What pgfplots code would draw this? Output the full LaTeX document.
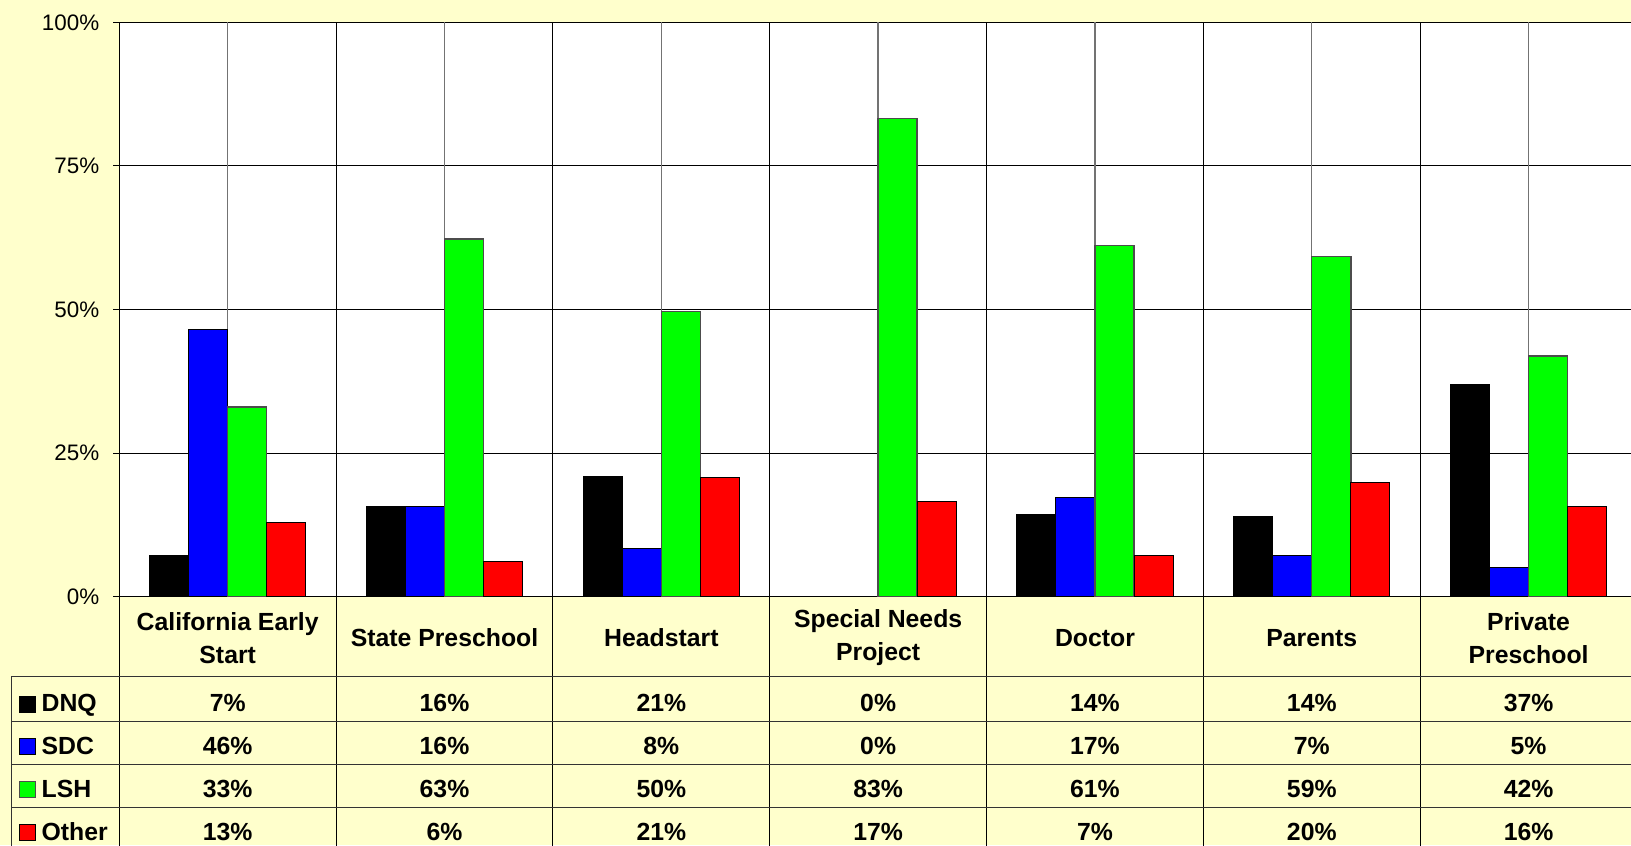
\documentclass[border=0pt]{standalone}
\usepackage{pgfplots}
\pgfplotsset{compat=1.18}
\usepackage{pgfplotstable}
\usepackage{fontspec}
\setmainfont{Liberation Sans}
\definecolor{bgyellow}{HTML}{FFFFCC}
\definecolor{sdcblue}{HTML}{0000FF}
\definecolor{lshgreen}{HTML}{00FF00}
\definecolor{othred}{HTML}{FF0000}

\pgfplotstableread{
x dnq sdc lsh oth
0 7.2 46.5 33.0 13.0
1 15.7 15.7 62.3 6.1
2 20.9 8.4 49.7 20.8
3 0 0 83.2 16.5
4 14.3 17.2 61.1 7.1
5 14.0 7.1 59.2 19.8
6 36.9 5.1 41.9 15.7
}\datatable

\newcommand\tabrow[8]{%
  \node[anchor=base,font=\tabfont] at (axis cs:0,#1) {#2\%};
  \node[anchor=base,font=\tabfont] at (axis cs:1,#1) {#3\%};
  \node[anchor=base,font=\tabfont] at (axis cs:2,#1) {#4\%};
  \node[anchor=base,font=\tabfont] at (axis cs:3,#1) {#5\%};
  \node[anchor=base,font=\tabfont] at (axis cs:4,#1) {#6\%};
  \node[anchor=base,font=\tabfont] at (axis cs:5,#1) {#7\%};
  \node[anchor=base,font=\tabfont] at (axis cs:6,#1) {#8\%};
}
\newcommand\tabfont{\bfseries\fontsize{12.4}{16.5}\selectfont}

\begin{document}
\begin{tikzpicture}
\useasboundingbox (0,0) rectangle (815.5pt,422.5pt);
\fill[bgyellow] (0,0) rectangle (815.5pt,422.5pt);
\clip (0,0) rectangle (815.5pt,422.5pt);
\begin{axis}[
  at={(59.65pt,124.15pt)}, anchor=south west,
  scale only axis, width=758.85pt, height=287.2pt,
  xmin=-0.5, xmax=6.5, ymin=0, ymax=100,
  clip=false,
  axis background/.style={fill=white},
  axis line style={black, line width=0.6pt},
  xtick=\empty,
  ytick={0,25,50,75,100},
  ytick pos=left,
  yticklabel={\pgfmathprintnumber[assume math mode=true]{\tick}\%},
  yticklabel style={font=\fontsize{11.2}{13}\selectfont, xshift=-3.5pt},
  tick align=outside, major tick length=3pt,
  tick style={black, line width=0.5pt},
  ymajorgrids, major grid style={black, line width=0.5pt},
]
% centre grid lines (behind bars)
\pgfplotsinvokeforeach{0,1,...,6}{\draw[black!55, line width=0.7pt] (axis cs:#1,0) -- (axis cs:#1,100);}

\addplot[ybar, bar width=0.18, bar shift=-0.27, fill=black, draw=black, line width=0.5pt] table[x=x,y=dnq]{\datatable};
\addplot[ybar, bar width=0.18, bar shift=-0.09, fill=sdcblue, draw=black, line width=0.5pt] table[x=x,y=sdc]{\datatable};
\addplot[ybar, bar width=0.18, bar shift=0.09, fill=lshgreen, draw=black!70, line width=0.7pt] table[x=x,y=lsh]{\datatable};
\addplot[ybar, bar width=0.18, bar shift=0.27, fill=othred, draw=black, line width=0.5pt] table[x=x,y=oth]{\datatable};

% category boundaries through plot and table
\pgfplotsinvokeforeach{0.5,1.5,...,5.5}{\draw[black, line width=0.5pt] (axis cs:#1,-46) -- (axis cs:#1,100);}
\draw[black, line width=0.6pt] (axis cs:-0.5,-46) -- (axis cs:-0.5,0);
% table horizontal lines
\draw[black!80, line width=0.5pt] (axis cs:-0.996,-13.81) -- (axis cs:6.5,-13.81);
\draw[black!80, line width=0.5pt] (axis cs:-0.996,-21.76) -- (axis cs:6.5,-21.76);
\draw[black!80, line width=0.5pt] (axis cs:-0.996,-29.18) -- (axis cs:6.5,-29.18);
\draw[black!80, line width=0.5pt] (axis cs:-0.996,-36.66) -- (axis cs:6.5,-36.66);
\draw[black!80, line width=0.5pt] (axis cs:-0.996,-13.81) -- (axis cs:-0.996,-46);

% category labels
\node[font=\tabfont, align=center] at (axis cs:0,-7.2) {California Early\\Start};
\node[font=\tabfont, align=center] at (axis cs:1,-7.2) {State Preschool};
\node[font=\tabfont, align=center] at (axis cs:2,-7.2) {Headstart};
\node[font=\tabfont, align=center] at (axis cs:3,-7.2) {Special Needs\\Project};
\node[font=\tabfont, align=center] at (axis cs:4,-7.2) {Doctor};
\node[font=\tabfont, align=center] at (axis cs:5,-7.2) {Parents};
\node[font=\tabfont, align=center] at (axis cs:6,-7.2) {Private\\Preschool};

% legend keys
\fill[black, draw=black] (axis cs:-0.96,-20.07) rectangle ++(8pt,8pt);
\fill[sdcblue, draw=black] (axis cs:-0.96,-27.39) rectangle ++(8pt,8pt);
\filldraw[fill=lshgreen, draw=black!70, line width=0.7pt] (axis cs:-0.96,-34.92) rectangle ++(8pt,8pt);
\filldraw[fill=othred, draw=black] (axis cs:-0.96,-42.36) rectangle ++(8pt,8pt);
\node[anchor=base west, font=\tabfont, inner sep=0pt] at (axis cs:-0.86,-20.07) {DNQ};
\node[anchor=base west, font=\tabfont, inner sep=0pt] at (axis cs:-0.86,-27.39) {SDC};
\node[anchor=base west, font=\tabfont, inner sep=0pt] at (axis cs:-0.86,-34.92) {LSH};
\node[anchor=base west, font=\tabfont, inner sep=0pt] at (axis cs:-0.86,-42.36) {Other};

% table values
\tabrow{-20.07}{7}{16}{21}{0}{14}{14}{37}
\tabrow{-27.39}{46}{16}{8}{0}{17}{7}{5}
\tabrow{-34.92}{33}{63}{50}{83}{61}{59}{42}
\tabrow{-42.36}{13}{6}{21}{17}{7}{20}{16}
\end{axis}
\end{tikzpicture}
\end{document}
